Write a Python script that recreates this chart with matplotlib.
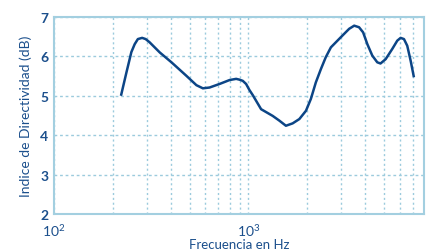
import matplotlib

matplotlib.use('Agg')
import matplotlib.pyplot as plt
from matplotlib.ticker import FixedLocator, NullFormatter

# frequency response of the directivity index
freq_hz = [221, 236, 250, 260, 270, 284, 296, 310, 350, 402, 479, 540, 583,
           631, 710, 800, 865, 899, 935, 973, 1011, 1052, 1162, 1333, 1442,
           1559, 1688, 1828, 1977, 2095, 2222, 2360, 2500, 2656, 3047, 3297,
           3500, 3707, 3890, 4090, 4337, 4600, 4780, 5080, 5495, 5830, 6065,
           6310, 6560, 6830, 7100]
di_db = [5.00, 5.60, 6.11, 6.31, 6.44, 6.47, 6.44, 6.36, 6.10, 5.85, 5.51,
         5.27, 5.19, 5.21, 5.30, 5.40, 5.43, 5.41, 5.38, 5.30, 5.15, 5.02,
         4.66, 4.49, 4.37, 4.24, 4.30, 4.41, 4.62, 4.92, 5.34, 5.68, 5.98,
         6.23, 6.53, 6.70, 6.78, 6.74, 6.61, 6.31, 6.02, 5.85, 5.82, 5.93,
         6.19, 6.40, 6.47, 6.44, 6.27, 5.89, 5.47]

y_ticks = [2, 3, 4, 5, 6, 7]
x_major = [100, 1000]
x_minor = [200, 300, 400, 500, 600, 700, 800, 900,
           2000, 3000, 4000, 5000, 6000, 7000]

text_col = '#1b4f8c'
grid_col = '#9ccbdd'
frame_col = '#a3cfe0'
line_col = '#0c4586'

plt.rcParams['font.family'] = ['Lato', 'DejaVu Sans']
plt.rcParams['mathtext.default'] = 'regular'

fig = plt.figure(figsize=(4.27, 2.53), dpi=100)
ax = fig.add_axes([54 / 427, 1 - 215 / 253, 370 / 427, 197 / 253])

ax.plot(freq_hz, di_db, color=line_col, linewidth=1.8,
        solid_joinstyle='round', solid_capstyle='butt')

ax.set_xscale('log')
ax.set_xlim(100, 8000)
ax.set_ylim(2, 7)
ax.xaxis.set_major_locator(FixedLocator(x_major))
ax.xaxis.set_minor_locator(FixedLocator(x_minor))
ax.xaxis.set_minor_formatter(NullFormatter())
ax.set_xticklabels(['$10^{2}$', '$10^{3}$'])
ax.set_yticks(y_ticks)

ax.grid(True, which='both', axis='x', color=grid_col, linestyle=(0, (1.5, 2)),
        linewidth=1.0)
ax.grid(True, which='major', axis='y', color=grid_col, linestyle=(0, (2, 2)),
        linewidth=1.0)
ax.set_axisbelow(True)

for s in ax.spines.values():
    s.set_color(frame_col)
    s.set_linewidth(1.5)

ax.tick_params(which='both', length=0, colors=text_col, labelsize=10)
ax.tick_params(axis='y', pad=4)
ax.tick_params(axis='x', pad=6)
for lbl in ax.get_yticklabels():
    lbl.set_fontweight('bold')

ax.set_xlabel('Frecuencia en Hz', color=text_col, fontsize=9.5, labelpad=0)
ax.set_ylabel('Indice de Directividad (dB)', color=text_col, fontsize=10,
              labelpad=6)

fig.savefig('out.png', dpi=100)
plt.close()
